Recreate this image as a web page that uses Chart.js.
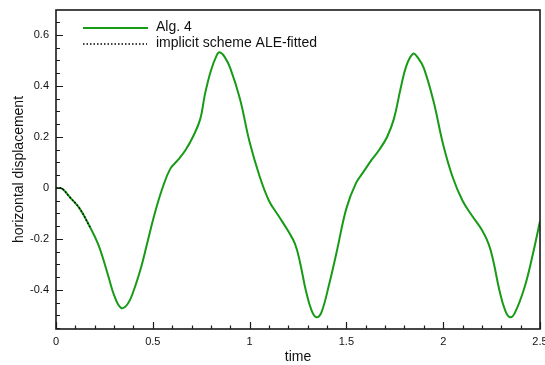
<!DOCTYPE html>
<html>
<head>
<meta charset="utf-8">
<script src="https://cdn.jsdelivr.net/npm/chart.js@4"></script>
<style>
  html, body { margin: 0; padding: 0; background: #fff; }
  #wrap { width: 545px; height: 365px; }
</style>
</head>
<body>
<div id="wrap"><canvas id="chart" width="545" height="365"></canvas></div>
<script>
// Data
const algTime = [0, 0.03, 0.07, 0.12, 0.17, 0.22, 0.27, 0.30, 0.336, 0.37, 0.40, 0.44, 0.47, 0.51, 0.55, 0.59, 0.63, 0.67, 0.71, 0.745, 0.77, 0.80, 0.83, 0.845, 0.87, 0.90, 0.95, 1.00, 1.05, 1.10, 1.15, 1.20, 1.235, 1.26, 1.29, 1.32, 1.345, 1.37, 1.41, 1.45, 1.50, 1.55, 1.59, 1.63, 1.67, 1.71, 1.745, 1.78, 1.81, 1.845, 1.87, 1.90, 1.95, 2.00, 2.05, 2.10, 2.15, 2.20, 2.235, 2.26, 2.29, 2.32, 2.345, 2.37, 2.42, 2.46, 2.50];
const algDisp = [0, -0.002, -0.035, -0.078, -0.145, -0.225, -0.345, -0.42, -0.47, -0.455, -0.405, -0.31, -0.22, -0.10, 0.0, 0.075, 0.11, 0.15, 0.205, 0.27, 0.37, 0.46, 0.52, 0.532, 0.515, 0.47, 0.35, 0.18, 0.05, -0.05, -0.11, -0.17, -0.22, -0.29, -0.40, -0.48, -0.507, -0.49, -0.38, -0.25, -0.08, 0.02, 0.065, 0.11, 0.15, 0.20, 0.27, 0.39, 0.48, 0.527, 0.51, 0.47, 0.34, 0.17, 0.04, -0.05, -0.11, -0.165, -0.22, -0.29, -0.40, -0.48, -0.507, -0.49, -0.39, -0.27, -0.13];

const aleTime = [0, 0.03, 0.07, 0.12, 0.17, 0.18];
const aleDisp = [0, -0.002, -0.035, -0.078, -0.145, -0.16];

const xTicks = [0, 0.5, 1, 1.5, 2, 2.5];
const xTickLabels = ['0', '0.5', '1', '1.5', '2', '2.5'];
const yTicks = [-0.4, -0.2, 0, 0.2, 0.4, 0.6];
const yTickLabels = ['-0.4', '-0.2', '0', '0.2', '0.4', '0.6'];
const seriesNames = ['Alg. 4', 'implicit scheme ALE-fitted'];

const GREEN = '#179b17';
const FONT = '"Liberation Sans", Arial, Helvetica, sans-serif';

const toPoints = (xs, ys) => xs.map((x, i) => ({ x: x, y: ys[i] }));

// Frame, inward ticks, labels and legend
const framePlugin = {
    id: 'frame',
    afterDatasetsDraw(chart) {
        const ctx = chart.ctx;
        const area = chart.chartArea;
        const xs = chart.scales.x;
        const ys = chart.scales.y;
        ctx.save();

        // box
        ctx.strokeStyle = '#1a1a1a';
        ctx.lineWidth = 1.6;
        ctx.strokeRect(area.left, area.top, area.right - area.left, area.bottom - area.top);

        // x ticks (minor every 0.1)
        ctx.lineWidth = 1.2;
        ctx.beginPath();
        for (let i = 0; i <= 25; i++) {
            const px = Math.round(xs.getPixelForValue(i / 10)) + 0.5;
            const len = i % 5 === 0 ? 7 : 3.5;
            ctx.moveTo(px, area.bottom);
            ctx.lineTo(px, area.bottom - len);
        }
        // y ticks (minor every 0.05)
        for (let i = -11; i <= 14; i++) {
            const v = i / 20;
            if (v < ys.min || v > ys.max) continue;
            const py = Math.round(ys.getPixelForValue(v)) + 0.5;
            const len = i % 4 === 0 ? 7 : 4;
            ctx.moveTo(area.left, py);
            ctx.lineTo(area.left + len, py);
        }
        ctx.stroke();

        // tick labels
        ctx.fillStyle = '#111';
        ctx.font = '11px ' + FONT;
        ctx.textAlign = 'center';
        ctx.textBaseline = 'middle';
        xTicks.forEach((v, i) => {
            ctx.fillText(xTickLabels[i], xs.getPixelForValue(v), area.bottom + 13);
        });
        ctx.textAlign = 'right';
        yTicks.forEach((v, i) => {
            ctx.fillText(yTickLabels[i], area.left - 7, ys.getPixelForValue(v));
        });

        // axis titles
        ctx.font = '14px ' + FONT;
        ctx.textAlign = 'center';
        ctx.fillText('time', (area.left + area.right) / 2, area.bottom + 28);
        ctx.save();
        ctx.translate(19, (area.top + area.bottom) / 2);
        ctx.rotate(-Math.PI / 2);
        ctx.fillText('horizontal displacement', 0, 0);
        ctx.restore();

        // legend
        const lx = area.left + 27;
        ctx.lineWidth = 2;
        ctx.strokeStyle = GREEN;
        ctx.beginPath();
        ctx.moveTo(lx, area.top + 18);
        ctx.lineTo(lx + 65, area.top + 18);
        ctx.stroke();
        ctx.strokeStyle = '#000';
        ctx.lineWidth = 1.5;
        ctx.setLineDash([1.5, 2]);
        ctx.beginPath();
        ctx.moveTo(lx, area.top + 34);
        ctx.lineTo(lx + 64, area.top + 34);
        ctx.stroke();
        ctx.setLineDash([]);
        ctx.textAlign = 'left';
        ctx.fillStyle = '#111';
        ctx.fillText(seriesNames[0], lx + 73, area.top + 17);
        ctx.fillText(seriesNames[1], lx + 73, area.top + 33);

        ctx.restore();
    }
};

new Chart(document.getElementById('chart').getContext('2d'), {
    type: 'line',
    data: {
        datasets: [{
            label: seriesNames[1],
            data: toPoints(aleTime, aleDisp),
            borderColor: '#000',
            borderWidth: 1.5,
            borderDash: [1.5, 2],
            pointRadius: 0,
            tension: 0.4
        }, {
            label: seriesNames[0],
            data: toPoints(algTime, algDisp),
            borderColor: GREEN,
            borderWidth: 2,
            pointRadius: 0,
            tension: 0.4
        }]
    },
    options: {
        responsive: false,
        animation: false,
        events: [],
        layout: { padding: { left: 56, top: 10, right: 5, bottom: 36 } },
        plugins: { legend: { display: false }, tooltip: { enabled: false } },
        scales: {
            x: { type: 'linear', display: false, min: 0, max: 2.5 },
            y: { type: 'linear', display: false, min: -0.553, max: 0.698 }
        }
    },
    plugins: [framePlugin]
});
</script>
</body>
</html>
